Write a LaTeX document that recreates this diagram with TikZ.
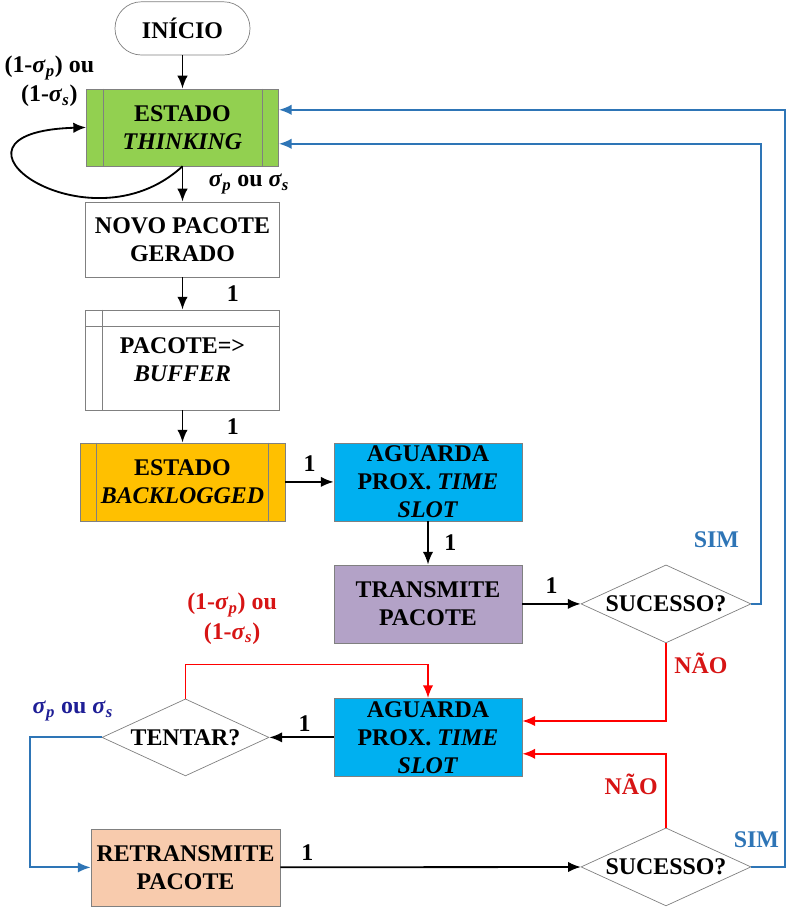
\documentclass[tikz,border=0pt]{standalone}
\usepackage{fontspec}
\setmainfont{Liberation Serif}
\usetikzlibrary{positioning,shapes.geometric,arrows.meta}

\definecolor{verde}{RGB}{146,208,80}
\definecolor{laranja}{RGB}{255,192,0}
\definecolor{azul}{RGB}{0,176,240}
\definecolor{lilas}{RGB}{179,162,199}
\definecolor{pessego}{RGB}{248,203,173}
\definecolor{simazul}{RGB}{46,117,182}
\definecolor{naored}{RGB}{215,20,20}
\definecolor{marinho}{RGB}{30,30,150}

\newcommand{\sgm}[1]{\textit{σ}\textsubscript{\textit{#1}}}

\tikzset{
    caixa/.style={rectangle, draw=black!50, line width=0.5pt, align=center,
        font=\fontsize{17}{20}\selectfont\bfseries, inner sep=0pt},
    losango/.style={diamond, draw=black!50, line width=0.5pt, align=center,
        font=\fontsize{17}{20}\selectfont\bfseries, inner sep=0pt, shape aspect=2.2,
        minimum width=4.25cm, minimum height=1.95cm},
    rotulo/.style={font=\fontsize{17}{21}\selectfont\bfseries, inner sep=1pt, align=center},
    seta/.style={->, line width=1.3pt},
    simline/.style={->, line width=1.3pt, draw=simazul},
    naoline/.style={->, line width=1.3pt, draw=red},
    >={Latex[length=3.2mm, width=2.6mm]}
}

\begin{document}
\begin{tikzpicture}

    \useasboundingbox (0,0) rectangle (19.65,-22.725);

    \node [caixa, rounded corners=0.66cm, minimum width=3.375cm, minimum height=1.33cm] (inicio) at (4.5625,-0.71) {INÍCIO};
    \node [caixa, fill=verde, minimum width=4.8cm, minimum height=1.925cm, node distance=2.475cm] (think) [below of=inicio] {ESTADO\\\textit{THINKING}};
    \node [caixa, minimum width=4.85cm, minimum height=1.875cm, node distance=2.8cm] (novo) [below of=think] {NOVO PACOTE\\GERADO};
    \node [caixa, minimum width=4.85cm, minimum height=2.5cm, node distance=3.0125cm] (buffer) [below of=novo] {PACOTE=>\\\textit{BUFFER}};
    \node [caixa, fill=laranja, minimum width=5.125cm, minimum height=1.95cm, node distance=3.05cm] (backlog) [below of=buffer] {ESTADO\\\textit{BACKLOGGED}};
    \node [caixa, fill=azul, minimum width=4.7cm, minimum height=1.95cm, node distance=6.1375cm] (ag1) [right of=backlog] {AGUARDA\\PROX. \textit{TIME}\\\textit{SLOT}};
    \node [caixa, fill=lilas, minimum width=4.7cm, minimum height=1.95cm, node distance=3.05cm] (trans) [below of=ag1] {TRANSMITE\\PACOTE};
    \node [losango, node distance=5.95cm] (suc1) [right of=trans] {SUCESSO?};
    \node [caixa, fill=azul, minimum width=4.7cm, minimum height=1.95cm, node distance=3.3375cm] (ag2) [below of=trans] {AGUARDA\\PROX. \textit{TIME}\\\textit{SLOT}};
    \node [losango, minimum width=4.175cm, minimum height=1.925cm, node distance=6.0625cm] (tentar) [left of=ag2] {TENTAR?};
    \node [caixa, fill=pessego, minimum width=4.725cm, minimum height=1.925cm, node distance=3.25cm] (retrans) [below of=tentar] {RETRANSMITE\\PACOTE};
    \node [losango, node distance=6.575cm] (suc2) [below of=suc1] {SUCESSO?};

    % linhas internas
    \foreach \n in {think,backlog} {
        \draw[black!50] ([xshift=0.42cm]\n.north west) -- ([xshift=0.42cm]\n.south west);
        \draw[black!50] ([xshift=-0.42cm]\n.north east) -- ([xshift=-0.42cm]\n.south east);
    }
    \draw[black!50] ([yshift=-0.42cm]buffer.north west) -- ([yshift=-0.42cm]buffer.north east);
    \draw[black!50] ([xshift=0.42cm]buffer.north west) -- ([xshift=0.42cm]buffer.south west);

    \draw[seta] (inicio) -- (think);
    \draw[seta] (think) -- (novo) node[rotulo, midway, right=0.6cm] {\sgm{p} ou \sgm{s}};
    \draw[seta] (think.south) .. controls +(-2.375,-2.2) and +(-4.175,-0.125) .. (think.west)
        node[rotulo, pos=1, xshift=-0.92cm, yshift=1.15cm] {(1-\sgm{p}) ou\\(1-\sgm{s})};
    \draw[seta] (novo) -- (buffer) node[rotulo, midway, right=1.05cm] {1};
    \draw[seta] (buffer) -- (backlog) node[rotulo, midway, right=1.05cm] {1};
    \draw[seta] (backlog) -- (ag1) node[rotulo, midway, above=0.2cm] {1};
    \draw[seta] (ag1) -- (trans) node[rotulo, midway, right=0.35cm] {1};
    \draw[seta] (trans) -- (suc1) node[rotulo, midway, above=0.2cm] {1};
    \draw[seta] (ag2) -- (tentar) node[rotulo, pos=0.45, above=0.1cm] {1};
    \draw[seta] (retrans) -- (suc2) node[rotulo, pos=0.09, above=0.1cm] {1};

    \draw[simline] (suc1.east) -- ++(0.25,0) |- node[rotulo, text=simazul, pos=0.07, left=0.5cm] {SIM} ([yshift=-0.41cm]think.east);
    \draw[simline] (suc2.east) -- ++(0.85,0) |- node[rotulo, text=simazul, pos=0.018, left=0.1cm] {SIM} ([yshift=0.44cm]think.east);

    \draw[naoline] (suc1.south) |- node[rotulo, text=naored, pos=0.127, right=0.15cm] {NÃO} ([yshift=0.41cm]ag2.east);
    \draw[naoline] (suc2.north) |- node[rotulo, text=naored, pos=0.29, left=0.15cm] {NÃO} ([yshift=-0.41cm]ag2.east);

    \draw[naoline] (tentar.north) -- ++(0,0.85) -| node[rotulo, text=naored, pos=0.096, above=0.45cm] {(1-\sgm{p}) ou\\(1-\sgm{s})} (ag2.north);
    \draw[simline] (tentar.west) -- ++(-1.8,0) node[rotulo, text=marinho, pos=0.4, above=0.35cm] {\sgm{p} ou \sgm{s}} |- (retrans.west);

\end{tikzpicture}
\end{document}
